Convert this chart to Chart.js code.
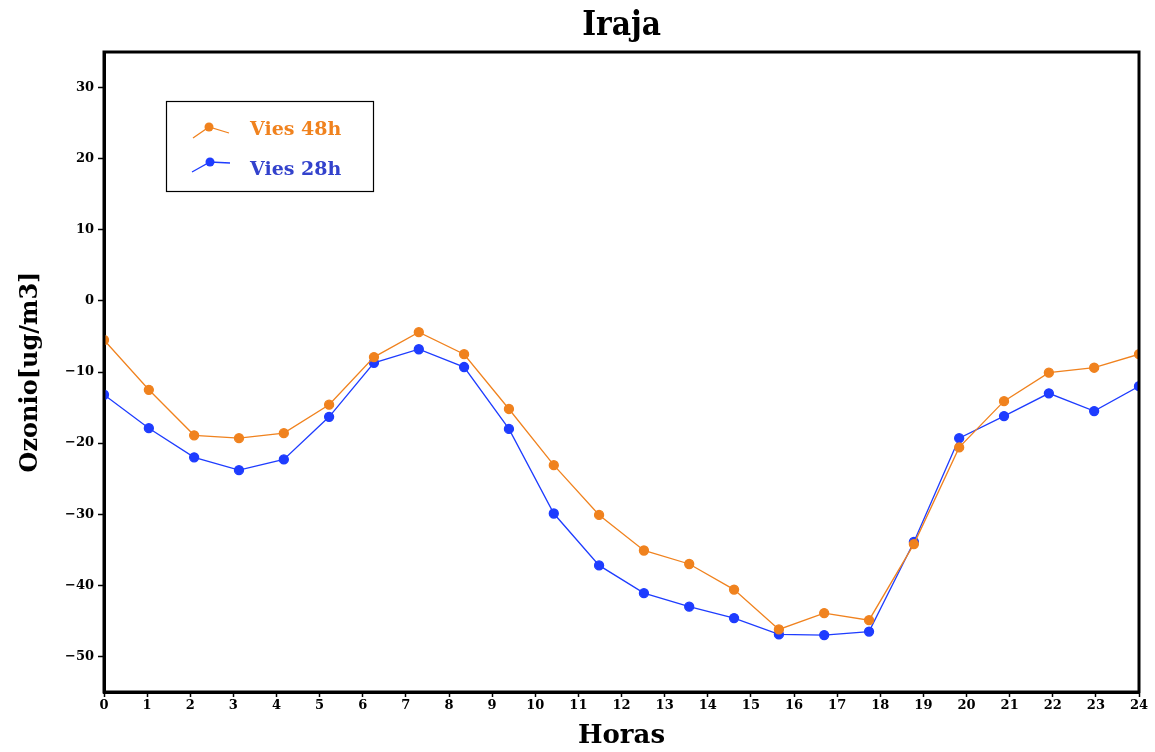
<!DOCTYPE html>
<html>
<head>
<meta charset="utf-8">
<script src="https://cdn.jsdelivr.net/npm/chart.js@4/dist/chart.umd.min.js"></script>
<style>
  html, body { margin: 0; padding: 0; background: #fff; }
  #wrap { width: 1155px; height: 752px; }
</style>
</head>
<body>
<div id="wrap"><canvas id="ozChart"></canvas></div>
<script>
// hours of each forecast step (24 steps over the day)
var horas = [0, 1.04, 2.09, 3.13, 4.17, 5.22, 6.26, 7.30, 8.35, 9.39, 10.43, 11.48,
  12.52, 13.57, 14.61, 15.65, 16.70, 17.74, 18.78, 19.83, 20.87, 21.91, 22.96, 24];

var vies48 = [-5.5, -12.5, -18.9, -19.3, -18.6, -14.6, -7.9, -4.4, -7.5, -15.2, -23.1, -30.1,
  -35.1, -37.0, -40.6, -46.2, -43.9, -44.9, -34.2, -20.6, -14.1, -10.1, -9.4, -7.5];

var vies28 = [-13.2, -17.9, -22.0, -23.8, -22.3, -16.3, -8.7, -6.8, -9.3, -18.0, -29.9, -37.2,
  -41.1, -43.0, -44.6, -46.9, -47.0, -46.5, -33.9, -19.3, -16.2, -13.0, -15.5, -12.0];

var serieNames = ["Vies 48h", "Vies 28h"];
var yTicks = [-50, -40, -30, -20, -10, 0, 10, 20, 30];
var yRange = [-55, 35];

var ORANGE = "#f0821e";
var BLUE = "#1e3cff";
var serif = "'DejaVu Serif', serif";
var serifCond = "'DejaVu Serif Condensed', 'DejaVu Serif', serif";

function toPoints(vals) {
  return vals.map(function(v, i) { return { x: horas[i], y: v }; });
}

// title, frame and legend box drawn on top of the chart
var decor = {
  id: "decor",
  afterDraw: function(chart) {
    var c = chart.ctx, a = chart.chartArea;
    c.save();
    c.fillStyle = "#000";
    c.font = "bold 33px " + serifCond;
    c.textAlign = "center";
    c.textBaseline = "middle";
    c.fillText("Iraja", (a.left + a.right) / 2, 26);

    c.strokeStyle = "#000";
    c.lineWidth = 3;
    c.strokeRect(a.left, a.top, a.right - a.left, a.bottom - a.top);

    // legend
    c.lineWidth = 1.2;
    c.strokeRect(166.5, 101.5, 207, 90);
    var rows = [
      { name: serieNames[0], color: ORANGE, text: ORANGE, y: 128, pts: [[193, 138], [209, 127], [229, 133]] },
      { name: serieNames[1], color: BLUE, text: "#3342cc", y: 168, pts: [[192, 172], [210, 162], [230, 163]] }
    ];
    rows.forEach(function(r) {
      c.strokeStyle = r.color;
      c.lineWidth = 1.3;
      c.beginPath();
      r.pts.forEach(function(p, i) { i ? c.lineTo(p[0], p[1]) : c.moveTo(p[0], p[1]); });
      c.stroke();
      c.fillStyle = r.color;
      c.beginPath();
      c.arc(r.pts[1][0], r.pts[1][1], 4.5, 0, Math.PI * 2);
      c.fill();
      c.fillStyle = r.text;
      c.font = "bold 19px " + serif;
      c.textAlign = "left";
      c.fillText(r.name, 250, r.y + 2);
    });
    c.restore();
  }
};

function minus(v) { return String(v).replace("-", "\u2212"); }

new Chart(document.getElementById("ozChart"), {
  type: "line",
  data: {
    datasets: [
      { label: serieNames[0], data: toPoints(vies48), borderColor: ORANGE, backgroundColor: ORANGE,
        pointBackgroundColor: ORANGE, pointBorderColor: ORANGE, pointRadius: 4.5, borderWidth: 1.3, tension: 0 },
      { label: serieNames[1], data: toPoints(vies28), borderColor: BLUE, backgroundColor: BLUE,
        pointBackgroundColor: BLUE, pointBorderColor: BLUE, pointRadius: 4.5, borderWidth: 1.3, tension: 0 }
    ]
  },
  options: {
    responsive: true,
    maintainAspectRatio: false,
    animation: false,
    layout: { padding: { left: 0, top: 52, right: 16, bottom: 0 } },
    plugins: { legend: { display: false }, tooltip: { enabled: false } },
    scales: {
      x: {
        type: "linear", min: 0, max: 24,
        afterFit: function(s) { s.height = 60; },
        grid: { drawOnChartArea: false, drawTicks: true, tickLength: 5, tickColor: "#000", tickWidth: 1.5 },
        border: { color: "#000", width: 3 },
        ticks: { stepSize: 1, color: "#000", padding: 1, maxRotation: 0, autoSkip: false,
          font: { family: serif, weight: "bold", size: 13 } },
        title: { display: true, text: "Horas", color: "#000", padding: { top: 0, bottom: 0 },
          font: { family: serif, weight: "bold", size: 26 } }
      },
      y: {
        min: yRange[0], max: yRange[1],
        afterFit: function(s) { s.width = 104; },
        afterBuildTicks: function(s) { s.ticks = yTicks.map(function(v) { return { value: v }; }); },
        grid: { drawOnChartArea: false, drawTicks: true, tickLength: 6, tickColor: "#000", tickWidth: 1.5 },
        border: { color: "#000", width: 3 },
        ticks: { color: "#000", padding: 4,
          font: { family: serif, weight: "bold", size: 13 },
          callback: function(v) { return minus(v); } },
        title: { display: true, text: "Ozonio[ug/m3]", color: "#000", padding: { top: 16, bottom: 0 },
          font: { family: serif, weight: "bold", size: 24 } }
      }
    }
  },
  plugins: [decor]
});
</script>
</body>
</html>
